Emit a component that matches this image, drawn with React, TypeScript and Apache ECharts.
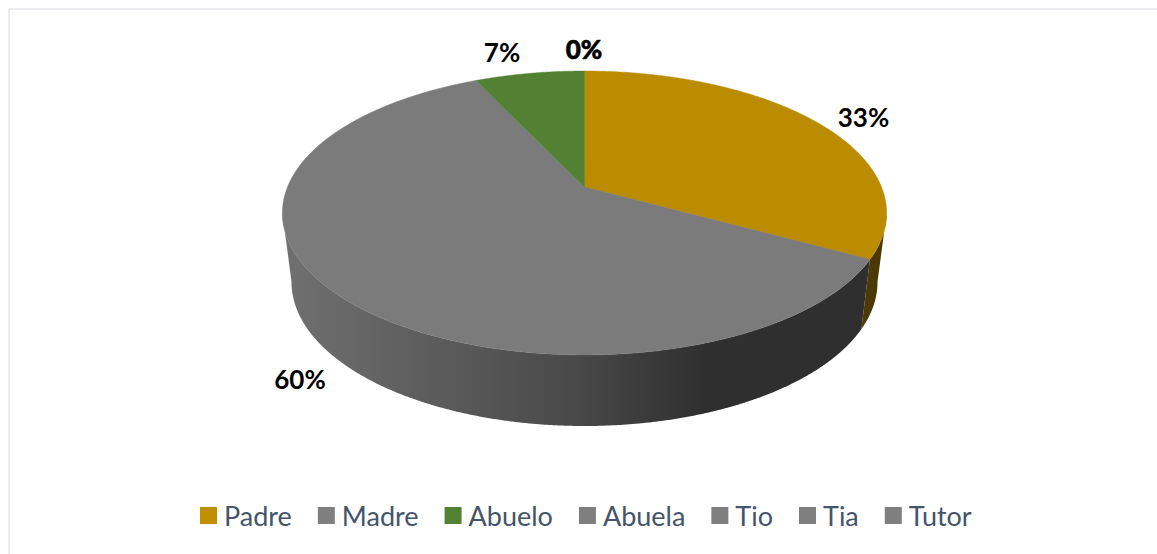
import React, { useEffect, useRef } from "react";
import * as echarts from "echarts";

const categories = ["Padre", "Madre", "Abuelo", "Abuela", "Tio", "Tia", "Tutor"];
const values = [33, 60, 7, 0, 0, 0, 0];
const colors = ["#BF8F00", "#7F7F7F", "#548235", "#7F7F7F", "#7F7F7F", "#7F7F7F", "#7F7F7F"];
const topColors = ["#BC8C00", "#7B7B7B", "#538134", "#7B7B7B", "#7B7B7B", "#7B7B7B", "#7B7B7B"];

// label anchors, per category index (layout only)
const labelAnchors: Record<number, [number, number]> = {
  0: [863.5, 117],
  1: [300, 379],
  2: [502, 52],
  3: [584, 49],
};

const total = values.reduce((a, b) => a + b, 0);
const CX = 584.5;
const APEX_Y = 187;
const A = 297;
const B = 137.2;
const K = 0.183;
const TOP = { cy: 213, rx: 302, ry: 142 };
const BOT = { cy: 282, rx: 293, ry: 144 };

function project(thetaDeg: number): [number, number] {
  const th = (thetaDeg * Math.PI) / 180;
  const u = Math.sin(th);
  const v = -Math.cos(th);
  const w = 1 - K * v;
  return [CX + (A * u) / w, APEX_Y + (B * v) / w];
}

function wedgeRange(i: number): [number, number] {
  let sum = 0;
  for (let j = 0; j < i; j++) sum += values[j];
  return [(sum / total) * 360, ((sum + values[i]) / total) * 360];
}

const wallFills = [
  () =>
    new echarts.graphic.LinearGradient(0, 0, 1, 0, [
      { offset: 0, color: "#4E3A03" },
      { offset: 1, color: "#4A3602" },
    ]),
  () =>
    new echarts.graphic.LinearGradient(0, 0, 1, 0, [
      { offset: 0, color: "#707070" },
      { offset: 0.28, color: "#5A5A5A" },
      { offset: 0.5, color: "#494949" },
      { offset: 0.72, color: "#2F2F2F" },
      { offset: 1, color: "#2F2F2F" },
    ]),
];

function renderSlice(i: number) {
  return (_params: any, api: any) => {
    const value = api.value(0);
    const children: any[] = [];
    if (value > 0) {
      const [a0, a1] = wedgeRange(i);
      const top: number[][] = [[CX, APEX_Y]];
      const wallTop: number[][] = [];
      const wallBot: number[][] = [];
      const steps = Math.max(2, Math.ceil((a1 - a0) * 4));
      for (let s = 0; s <= steps; s++) {
        const p = project(a0 + ((a1 - a0) * s) / steps);
        top.push(p);
        if (p[1] >= TOP.cy - 0.5) {
          const t = Math.atan2((p[1] - TOP.cy) / TOP.ry, (p[0] - CX) / TOP.rx);
          wallTop.push(p);
          wallBot.push([CX + BOT.rx * Math.cos(t), BOT.cy + BOT.ry * Math.sin(t)]);
        }
      }
      if (wallTop.length > 1 && wallFills[i]) {
        children.push({
          type: "polygon",
          shape: { points: wallTop.concat(wallBot.reverse()) },
          style: { fill: wallFills[i]() },
        });
      }
      children.push({
        type: "polygon",
        shape: { points: top },
        style: { fill: topColors[i], stroke: topColors[i], lineWidth: 0.5 },
      });
    }
    const anchor = labelAnchors[i];
    if (anchor) {
      children.push({
        type: "text",
        z2: 10,
        style: {
          text: `${value}%`,
          x: anchor[0],
          y: anchor[1],
          fill: "#000000",
          fontFamily: "Lato",
          fontWeight: value === 0 ? 900 : "bold",
          fontSize: 26,
          textAlign: "center",
          textVerticalAlign: "middle",
          ...(value === 0 ? { stroke: "#000000", lineWidth: 0.6 } : {}),
        },
      });
    }
    return { type: "group", children };
  };
}

export default function App() {
  const ref = useRef<HTMLDivElement>(null);
  useEffect(() => {
    const chart = echarts.init(ref.current!, null, { renderer: "svg" });
    chart.setOption({
      animation: false,
      backgroundColor: "#ffffff",
      graphic: [
        {
          type: "polyline",
          shape: { points: [[9, 554], [9, 9], [1157, 9]] },
          style: { stroke: "#E3E6EA", lineWidth: 1.5, fill: "none" },
          silent: true,
        },
      ],
      legend: {
        data: categories,
        left: 200,
        top: 502,
        padding: 0,
        icon: "rect",
        itemWidth: 17,
        itemHeight: 17,
        itemGap: 26,
        textStyle: { color: "#44546A", fontSize: 27, fontFamily: "Lato", padding: [0, 0, 0, 2] },
        selectedMode: false,
      },
      series: categories.map((name, i) => ({
        type: "custom",
        name,
        coordinateSystem: "none",
        itemStyle: { color: colors[i] },
        data: [[values[i]]],
        renderItem: renderSlice(i),
        silent: true,
      })),
    });
    return () => chart.dispose();
  }, []);
  return <div ref={ref} style={{ position: "absolute", left: 0, top: 0, width: 1157, height: 554 }} />;
}
